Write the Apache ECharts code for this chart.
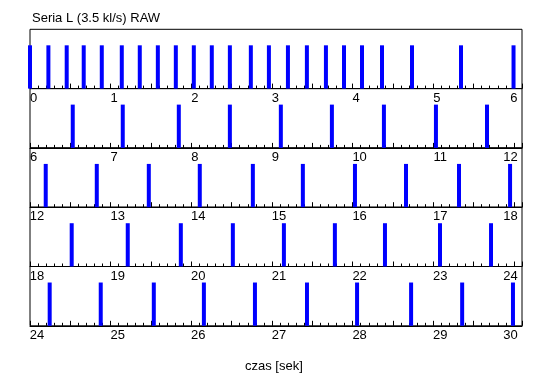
<!DOCTYPE html>
<html>
<head>
<meta charset="utf-8">
<script src="https://cdn.jsdelivr.net/npm/echarts@6/dist/echarts.min.js"></script>
<style>
  html, body { margin: 0; padding: 0; background: #fff; }
  #main { width: 550px; height: 389px; }
</style>
</head>
<body>
<div id="main"></div>
<script>
// momenty zdarzen [s]
var czasy = [
    0.0, 0.228, 0.455, 0.666, 0.89, 1.138, 1.361, 1.585, 1.808, 2.031, 2.254, 2.478,
    2.738, 2.962, 3.198, 3.433, 3.669, 3.893, 4.116, 4.364, 4.736, 5.344, 5.995,
    6.53, 7.15, 7.845, 8.478, 9.11, 9.743, 10.388, 11.033, 11.666,
    12.195, 12.828, 13.473, 14.105, 14.763, 15.383, 16.029, 16.662, 17.319, 17.952,
    18.517, 19.212, 19.87, 20.515, 21.148, 21.78, 22.401, 23.083, 23.716,
    24.244, 24.877, 25.535, 26.156, 26.789, 27.434, 28.055, 28.725, 29.358, 29.988
];
var poczatkiWierszy = [0, 6, 12, 18, 24];  // start kazdego wiersza
var dlugoscWiersza = 6;
var tytul = 'Seria L (3.5 kl/s) RAW';
var opisOsi = 'czas [sek]';

var font = 'Liberation Sans, Arial, sans-serif';
var gora = 29.3, wysokosc = 59.3;

var grids = [], xAxes = [], yAxes = [], series = [];
poczatkiWierszy.forEach(function (start, i) {
    var koniec = start + dlugoscWiersza;
    grids.push({
        left: 30, right: 28, top: gora + i * wysokosc, height: wysokosc,
        show: true, borderColor: '#000', borderWidth: 1, backgroundColor: 'transparent'
    });
    xAxes.push({
        gridIndex: i, type: 'value',
        min: start, max: koniec + 0.1, interval: 0.5,
        splitLine: { show: false },
        axisLine: { lineStyle: { color: '#000', width: 1 } },
        axisTick: { inside: true, length: 5, lineStyle: { color: '#000' } },
        minorTick: { show: true, splitNumber: 5, length: 3, lineStyle: { color: '#000' } },
        axisLabel: {
            color: '#000', fontSize: 13, fontFamily: font, margin: 3, align: 'center',
            showMaxLabel: false,
            formatter: function (v) {
                if (Math.abs(v - Math.round(v)) > 1e-6) return '';
                var s = String(Math.round(v));
                // ostatnia etykieta dosunieta do ramki, reszta od kreski w prawo
                if (Math.round(v) === koniec) return '{r' + s.length + '|' + s + '}';
                return '{l' + s.length + '|' + s + '}';
            },
            rich: {
                l1: { fontSize: 13, fontFamily: font, color: '#000', padding: [0, 0, 0, 7] },
                l2: { fontSize: 13, fontFamily: font, color: '#000', padding: [0, 0, 0, 14] },
                r1: { fontSize: 13, fontFamily: font, color: '#000' },
                r2: { fontSize: 13, fontFamily: font, color: '#000', padding: [0, 7, 0, 0] }
            }
        }
    });
    yAxes.push({
        gridIndex: i, type: 'value', min: 0, max: 1.37, show: false
    });
    series.push({
        type: 'bar', xAxisIndex: i, yAxisIndex: i,
        barWidth: 4, clip: false, silent: true,
        itemStyle: { color: '#0000ff' },
        data: czasy.filter(function (t) {
            return t >= start && t < koniec;
        }).map(function (t) { return [t, 1]; })
    });
});

var myChart = echarts.init(document.getElementById('main'));
myChart.setOption({
    animation: false,
    backgroundColor: '#fff',
    grid: grids,
    xAxis: xAxes,
    yAxis: yAxes,
    series: series,
    graphic: [
        { type: 'text', left: 32, top: 12,
          style: { text: tytul, fill: '#000', font: '13px ' + font } },
        { type: 'text', left: 245, top: 360,
          style: { text: opisOsi, fill: '#000', font: '13px ' + font } }
    ]
});
</script>
</body>
</html>
